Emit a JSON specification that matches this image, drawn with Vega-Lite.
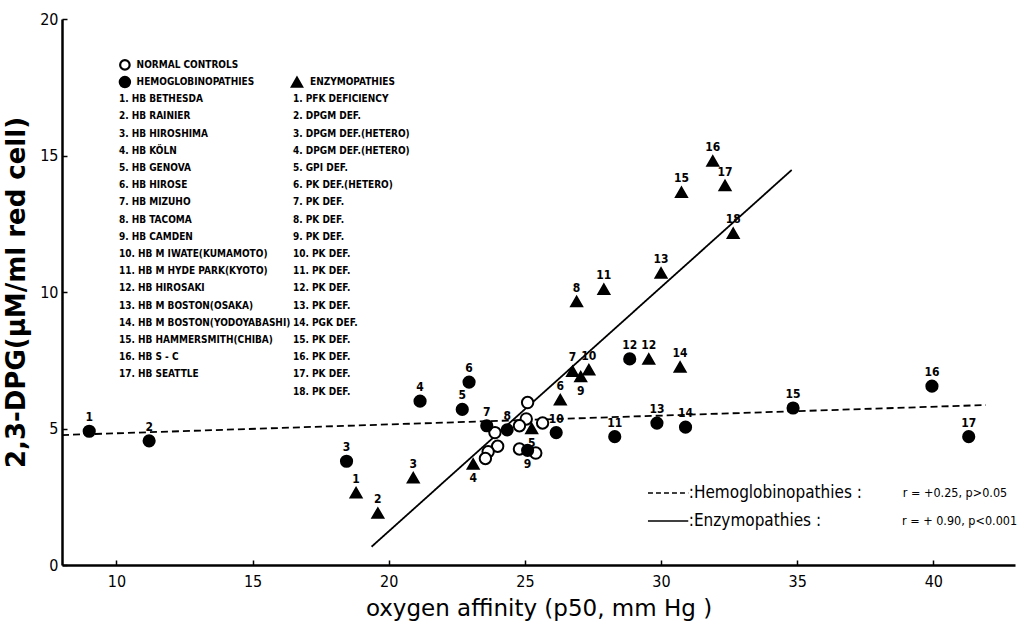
{
  "$schema": "https://vega.github.io/schema/vega-lite/v6.json",
  "autosize": "none",
  "width": 953,
  "height": 546,
  "padding": {"left": 62, "top": 19, "right": 3, "bottom": 61},
  "background": "white",
  "config": {
    "view": {"stroke": null},
    "font": "DejaVu Sans Condensed, DejaVu Sans",
    "text": {"font": "DejaVu Sans Condensed, DejaVu Sans", "color": "black"}
  },
  "datasets": {
    "points": [
      {"group": "Normal controls", "id": null, "p50": 25.1, "dpg": 5.95},
      {"group": "Normal controls", "id": null, "p50": 25.05, "dpg": 5.35},
      {"group": "Normal controls", "id": null, "p50": 24.8, "dpg": 5.1},
      {"group": "Normal controls", "id": null, "p50": 25.65, "dpg": 5.2},
      {"group": "Normal controls", "id": null, "p50": 23.9, "dpg": 4.85},
      {"group": "Normal controls", "id": null, "p50": 24.0, "dpg": 4.35},
      {"group": "Normal controls", "id": null, "p50": 23.65, "dpg": 4.15},
      {"group": "Normal controls", "id": null, "p50": 23.55, "dpg": 3.9},
      {"group": "Normal controls", "id": null, "p50": 24.8, "dpg": 4.25},
      {"group": "Normal controls", "id": null, "p50": 25.4, "dpg": 4.1},
      {"group": "Hemoglobinopathies", "id": 1, "p50": 9.0, "dpg": 4.9},
      {"group": "Hemoglobinopathies", "id": 2, "p50": 11.2, "dpg": 4.55},
      {"group": "Hemoglobinopathies", "id": 3, "p50": 18.45, "dpg": 3.8},
      {"group": "Hemoglobinopathies", "id": 4, "p50": 21.15, "dpg": 6.0},
      {"group": "Hemoglobinopathies", "id": 5, "p50": 22.7, "dpg": 5.7},
      {"group": "Hemoglobinopathies", "id": 6, "p50": 22.95, "dpg": 6.7},
      {"group": "Hemoglobinopathies", "id": 7, "p50": 23.6, "dpg": 5.1},
      {"group": "Hemoglobinopathies", "id": 8, "p50": 24.35, "dpg": 4.95},
      {"group": "Hemoglobinopathies", "id": 9, "p50": 25.1, "dpg": 4.2},
      {"group": "Hemoglobinopathies", "id": 10, "p50": 26.15, "dpg": 4.85},
      {"group": "Hemoglobinopathies", "id": 11, "p50": 28.3, "dpg": 4.7},
      {"group": "Hemoglobinopathies", "id": 12, "p50": 28.85, "dpg": 7.55},
      {"group": "Hemoglobinopathies", "id": 13, "p50": 29.85, "dpg": 5.2},
      {"group": "Hemoglobinopathies", "id": 14, "p50": 30.9, "dpg": 5.05},
      {"group": "Hemoglobinopathies", "id": 15, "p50": 34.85, "dpg": 5.75},
      {"group": "Hemoglobinopathies", "id": 16, "p50": 39.95, "dpg": 6.55},
      {"group": "Hemoglobinopathies", "id": 17, "p50": 41.3, "dpg": 4.7},
      {"group": "Enzymopathies", "id": 1, "p50": 18.8, "dpg": 2.65},
      {"group": "Enzymopathies", "id": 2, "p50": 19.6, "dpg": 1.9},
      {"group": "Enzymopathies", "id": 3, "p50": 20.9, "dpg": 3.2},
      {"group": "Enzymopathies", "id": 4, "p50": 23.1, "dpg": 3.7},
      {"group": "Enzymopathies", "id": 5, "p50": 25.25, "dpg": 5.0},
      {"group": "Enzymopathies", "id": 6, "p50": 26.3, "dpg": 6.05},
      {"group": "Enzymopathies", "id": 7, "p50": 26.75, "dpg": 7.1},
      {"group": "Enzymopathies", "id": 8, "p50": 26.9, "dpg": 9.65},
      {"group": "Enzymopathies", "id": 9, "p50": 27.05, "dpg": 6.9},
      {"group": "Enzymopathies", "id": 10, "p50": 27.35, "dpg": 7.15},
      {"group": "Enzymopathies", "id": 11, "p50": 27.9, "dpg": 10.1},
      {"group": "Enzymopathies", "id": 12, "p50": 29.55, "dpg": 7.55},
      {"group": "Enzymopathies", "id": 13, "p50": 30.0, "dpg": 10.7},
      {"group": "Enzymopathies", "id": 14, "p50": 30.7, "dpg": 7.25},
      {"group": "Enzymopathies", "id": 15, "p50": 30.75, "dpg": 13.65},
      {"group": "Enzymopathies", "id": 16, "p50": 31.9, "dpg": 14.8},
      {"group": "Enzymopathies", "id": 17, "p50": 32.35, "dpg": 13.9},
      {"group": "Enzymopathies", "id": 18, "p50": 32.65, "dpg": 12.15}
    ],
    "fits": [
      {"fit": "Hemoglobinopathies", "p50": 8.0, "dpg": 4.76},
      {"fit": "Hemoglobinopathies", "p50": 41.93, "dpg": 5.86},
      {"fit": "Enzymopathies", "p50": 19.37, "dpg": 0.67},
      {"fit": "Enzymopathies", "p50": 34.8, "dpg": 14.47}
    ],
    "legend": [
      {"col": "NC", "n": -1, "label": "NORMAL CONTROLS"},
      {"col": "HH", "n": 0, "label": "HEMOGLOBINOPATHIES"},
      {"col": "EH", "n": 0, "label": "ENZYMOPATHIES"},
      {"col": "H", "n": 1, "label": "1. HB BETHESDA"},
      {"col": "H", "n": 2, "label": "2. HB RAINIER"},
      {"col": "H", "n": 3, "label": "3. HB HIROSHIMA"},
      {"col": "H", "n": 4, "label": "4. HB KÖLN"},
      {"col": "H", "n": 5, "label": "5. HB GENOVA"},
      {"col": "H", "n": 6, "label": "6. HB HIROSE"},
      {"col": "H", "n": 7, "label": "7. HB MIZUHO"},
      {"col": "H", "n": 8, "label": "8. HB TACOMA"},
      {"col": "H", "n": 9, "label": "9. HB CAMDEN"},
      {"col": "H", "n": 10, "label": "10. HB M IWATE(KUMAMOTO)"},
      {"col": "H", "n": 11, "label": "11. HB M HYDE PARK(KYOTO)"},
      {"col": "H", "n": 12, "label": "12. HB HIROSAKI"},
      {"col": "H", "n": 13, "label": "13. HB M BOSTON(OSAKA)"},
      {"col": "H", "n": 14, "label": "14. HB M BOSTON(YODOYABASHI)"},
      {"col": "H", "n": 15, "label": "15. HB HAMMERSMITH(CHIBA)"},
      {"col": "H", "n": 16, "label": "16. HB S - C"},
      {"col": "H", "n": 17, "label": "17. HB SEATTLE"},
      {"col": "E", "n": 1, "label": "1. PFK DEFICIENCY"},
      {"col": "E", "n": 2, "label": "2. DPGM DEF."},
      {"col": "E", "n": 3, "label": "3. DPGM DEF.(HETERO)"},
      {"col": "E", "n": 4, "label": "4. DPGM DEF.(HETERO)"},
      {"col": "E", "n": 5, "label": "5. GPI DEF."},
      {"col": "E", "n": 6, "label": "6. PK DEF.(HETERO)"},
      {"col": "E", "n": 7, "label": "7. PK DEF."},
      {"col": "E", "n": 8, "label": "8. PK DEF."},
      {"col": "E", "n": 9, "label": "9. PK DEF."},
      {"col": "E", "n": 10, "label": "10. PK DEF."},
      {"col": "E", "n": 11, "label": "11. PK DEF."},
      {"col": "E", "n": 12, "label": "12. PK DEF."},
      {"col": "E", "n": 13, "label": "13. PK DEF."},
      {"col": "E", "n": 14, "label": "14. PGK DEF."},
      {"col": "E", "n": 15, "label": "15. PK DEF."},
      {"col": "E", "n": 16, "label": "16. PK DEF."},
      {"col": "E", "n": 17, "label": "17. PK DEF."},
      {"col": "E", "n": 18, "label": "18. PK DEF."}
    ]
  },
  "resolve": {"scale": {"y": "independent"}},
  "layer": [
    {
      "layer": [
        {
          "data": {"name": "fits"},
          "mark": {"type": "line", "color": "black", "strokeWidth": 1.8},
          "encoding": {
            "x": {"field": "p50", "type": "quantitative"},
            "y": {"field": "dpg", "type": "quantitative"},
            "detail": {"field": "fit"},
            "strokeDash": {"field": "fit", "type": "nominal", "scale": {"domain": ["Hemoglobinopathies", "Enzymopathies"], "range": [[7, 4], [1, 0]]}, "legend": null}
          }
        },
        {
          "data": {"name": "points"},
          "mark": {"type": "point", "filled": true, "stroke": "black", "strokeWidth": 2, "opacity": 1},
          "encoding": {
            "x": {"field": "p50", "type": "quantitative", "scale": {"domain": [8, 43], "nice": false, "zero": false},
              "axis": {"values": [10, 15, 20, 25, 30, 35, 40], "title": "oxygen affinity  (p50, mm Hg )", "grid": false,
                "domainColor": "black", "domainWidth": 2.5, "tickColor": "black", "tickSize": -5, "tickWidth": 1.5,
                "labelPadding": 13, "labelFont": "DejaVu Sans Condensed, DejaVu Sans", "labelFontSize": 16, "labelColor": "black",
                "titleFont": "DejaVu Sans", "titleFontSize": 23, "titleFontWeight": "normal", "titleColor": "black", "titlePadding": 8}},
            "y": {"field": "dpg", "type": "quantitative", "scale": {"domain": [0, 20], "nice": false},
              "axis": {"values": [0, 5, 10, 15, 20], "title": "2,3-DPG(μM/ml red cell)", "grid": false,
                "domainColor": "black", "domainWidth": 2.5, "tickColor": "black", "tickSize": -5, "tickWidth": 1.5,
                "labelPadding": 9, "labelFont": "DejaVu Sans Condensed, DejaVu Sans", "labelFontSize": 16, "labelColor": "black",
                "titleFont": "DejaVu Sans", "titleFontSize": 26, "titleFontWeight": "bold", "titleColor": "black", "titlePadding": 10}},
            "shape": {"field": "group", "type": "nominal", "scale": {"domain": ["Normal controls", "Hemoglobinopathies", "Enzymopathies"], "range": ["circle", "circle", "triangle-up"]}, "legend": null},
            "fill": {"field": "group", "type": "nominal", "scale": {"domain": ["Normal controls", "Hemoglobinopathies", "Enzymopathies"], "range": ["white", "black", "black"]}, "legend": null},
            "size": {"field": "group", "type": "nominal", "scale": {"domain": ["Normal controls", "Hemoglobinopathies", "Enzymopathies"], "range": [130, 120, 160]}, "legend": null}
          }
        },
        {
          "data": {"name": "points"},
          "transform": [{"filter": "datum.id != null && !((datum.group=='Hemoglobinopathies' && datum.id==9) || (datum.group=='Enzymopathies' && (datum.id==4 || datum.id==5 || datum.id==9)))"}],
          "mark": {"type": "text", "dy": -14, "fontSize": 12, "fontWeight": "bold", "baseline": "middle"},
          "encoding": {
            "x": {"field": "p50", "type": "quantitative"},
            "y": {"field": "dpg", "type": "quantitative"},
            "text": {"field": "id"}
          }
        },
        {
          "data": {"name": "points"},
          "transform": [{"filter": "(datum.group=='Hemoglobinopathies' && datum.id==9) || (datum.group=='Enzymopathies' && (datum.id==4 || datum.id==5 || datum.id==9))"}],
          "mark": {"type": "text", "dy": 14, "fontSize": 12, "fontWeight": "bold", "baseline": "middle"},
          "encoding": {
            "x": {"field": "p50", "type": "quantitative"},
            "y": {"field": "dpg", "type": "quantitative"},
            "text": {"field": "id"}
          }
        },
        {
          "data": {"values": [{}]},
          "mark": {"type": "rule", "color": "black", "strokeWidth": 1.5, "strokeDash": [5, 3]},
          "encoding": {"x": {"datum": 29.52}, "x2": {"datum": 31.0}, "y": {"datum": 2.64}}
        },
        {
          "data": {"values": [{}]},
          "mark": {"type": "rule", "color": "black", "strokeWidth": 1.5},
          "encoding": {"x": {"datum": 29.52}, "x2": {"datum": 31.0}, "y": {"datum": 1.61}}
        },
        {
          "data": {"values": [{}]},
          "mark": {"type": "text", "text": ":Hemoglobinopathies :", "align": "left", "baseline": "middle", "fontSize": 17},
          "encoding": {"x": {"datum": 31.02}, "y": {"datum": 2.64}}
        },
        {
          "data": {"values": [{}]},
          "mark": {"type": "text", "text": ":Enzymopathies :", "align": "left", "baseline": "middle", "fontSize": 17},
          "encoding": {"x": {"datum": 31.02}, "y": {"datum": 1.61}}
        },
        {
          "data": {"values": [{}]},
          "mark": {"type": "text", "text": "r = +0.25, p>0.05", "align": "left", "baseline": "middle", "fontSize": 12.5},
          "encoding": {"x": {"datum": 38.88}, "y": {"datum": 2.64}}
        },
        {
          "data": {"values": [{}]},
          "mark": {"type": "text", "text": "r = + 0.90, p<0.001", "align": "left", "baseline": "middle", "fontSize": 12.5},
          "encoding": {"x": {"datum": 38.85}, "y": {"datum": 1.61}}
        }
      ]
    },
    {
      "layer": [
        {
          "data": {"name": "legend"},
          "transform": [{"filter": "datum.col == 'H'"}],
          "mark": {"type": "text", "align": "left", "baseline": "middle", "fontSize": 10, "fontWeight": "bold"},
          "encoding": {
            "x": {"datum": 10.09},
            "y": {"field": "n", "type": "quantitative", "scale": {"domain": [-3.67, 28.09], "reverse": true, "nice": false, "zero": false}, "axis": null},
            "text": {"field": "label"}
          }
        },
        {
          "data": {"name": "legend"},
          "transform": [{"filter": "datum.col == 'E'"}],
          "mark": {"type": "text", "align": "left", "baseline": "middle", "fontSize": 10, "fontWeight": "bold"},
          "encoding": {
            "x": {"datum": 16.48},
            "y": {"field": "n", "type": "quantitative"},
            "text": {"field": "label"}
          }
        },
        {
          "data": {"name": "legend"},
          "transform": [{"filter": "datum.col == 'NC' || datum.col == 'HH'"}],
          "mark": {"type": "text", "align": "left", "baseline": "middle", "fontSize": 10, "fontWeight": "bold"},
          "encoding": {
            "x": {"datum": 10.74},
            "y": {"field": "n", "type": "quantitative"},
            "text": {"field": "label"}
          }
        },
        {
          "data": {"name": "legend"},
          "transform": [{"filter": "datum.col == 'EH'"}],
          "mark": {"type": "text", "align": "left", "baseline": "middle", "fontSize": 10, "fontWeight": "bold"},
          "encoding": {
            "x": {"datum": 17.11},
            "y": {"field": "n", "type": "quantitative"},
            "text": {"field": "label"}
          }
        },
        {
          "data": {"values": [{}]},
          "mark": {"type": "point", "shape": "circle", "filled": true, "fill": "white", "stroke": "black", "strokeWidth": 2.2, "size": 90, "opacity": 1},
          "encoding": {"x": {"datum": 10.31}, "y": {"datum": -1}}
        },
        {
          "data": {"values": [{}]},
          "mark": {"type": "point", "shape": "circle", "filled": true, "fill": "black", "stroke": "black", "size": 110, "opacity": 1},
          "encoding": {"x": {"datum": 10.31}, "y": {"datum": 0}}
        },
        {
          "data": {"values": [{}]},
          "mark": {"type": "point", "shape": "triangle-up", "filled": true, "fill": "black", "stroke": "black", "size": 110, "opacity": 1},
          "encoding": {"x": {"datum": 16.63}, "y": {"datum": 0}}
        }
      ]
    }
  ]
}
